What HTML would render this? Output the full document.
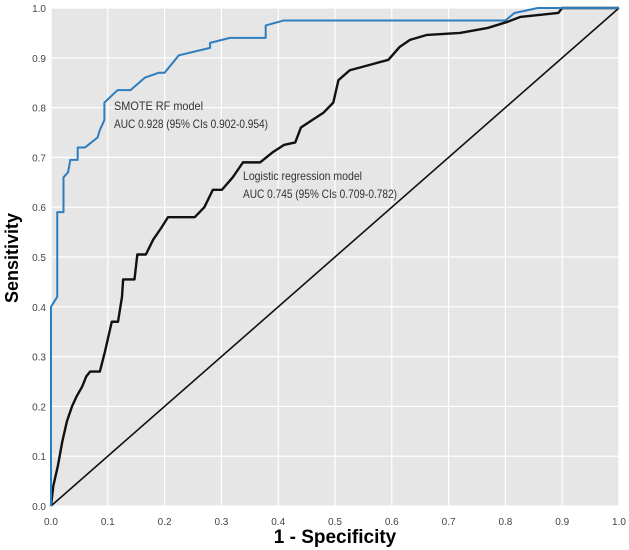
<!DOCTYPE html>
<html><head><meta charset="utf-8"><style>
body{margin:0;background:#fff;}
svg{display:block;font-family:"Liberation Sans",sans-serif;}
</style></head><body>
<svg id="chart" width="629" height="550" viewBox="0 0 629 550">
<rect x="51" y="8" width="568" height="498" fill="#e6e6e6"/>
<g id="grid"></g><g id="ticks"></g><g id="series"></g>
<text x="114" y="110" font-size="12" fill="#333" textLength="89" lengthAdjust="spacingAndGlyphs">SMOTE RF model</text>
<text x="114" y="128" font-size="12" fill="#333" textLength="154" lengthAdjust="spacingAndGlyphs">AUC 0.928 (95% CIs 0.902-0.954)</text>
<text x="243" y="180" font-size="12" fill="#333" textLength="119" lengthAdjust="spacingAndGlyphs">Logistic regression model</text>
<text x="243" y="198" font-size="12" fill="#333" textLength="154" lengthAdjust="spacingAndGlyphs">AUC 0.745 (95% CIs 0.709-0.782)</text>
<text x="335" y="543" font-size="19" font-weight="bold" text-anchor="middle" fill="#000">1 - Specificity</text>
<text transform="translate(18,258) rotate(-90)" font-size="18" font-weight="bold" text-anchor="middle" fill="#000">Sensitivity</text>
</svg>
<script>
const ticks=[0,0.1,0.2,0.3,0.4,0.5,0.6,0.7,0.8,0.9,1.0];
const tickLabels=["0.0","0.1","0.2","0.3","0.4","0.5","0.6","0.7","0.8","0.9","1.0"];
const rfFpr=[0,0,0.011,0.011,0.022,0.022,0.03,0.034,0.047,0.047,0.06,0.082,0.086,0.094,0.094,0.117,0.14,0.165,0.19,0.2,0.225,0.28,0.28,0.315,0.378,0.378,0.41,0.8,0.816,0.857,1];
const rfTpr=[0,0.40,0.42,0.59,0.59,0.66,0.67,0.695,0.695,0.72,0.72,0.74,0.755,0.775,0.81,0.835,0.835,0.86,0.87,0.87,0.905,0.92,0.93,0.94,0.94,0.965,0.975,0.975,0.99,1,1];
const lrFpr=[0,0.004,0.012,0.02,0.028,0.037,0.045,0.055,0.062,0.069,0.086,0.095,0.107,0.118,0.125,0.127,0.147,0.152,0.167,0.18,0.195,0.206,0.253,0.27,0.285,0.301,0.32,0.338,0.368,0.39,0.41,0.43,0.44,0.46,0.48,0.497,0.506,0.526,0.562,0.594,0.614,0.632,0.662,0.72,0.769,0.803,0.826,0.893,0.9,1];
const lrTpr=[0,0.04,0.08,0.13,0.17,0.2,0.22,0.24,0.26,0.27,0.27,0.31,0.37,0.37,0.42,0.455,0.455,0.505,0.505,0.535,0.56,0.58,0.58,0.6,0.635,0.635,0.66,0.69,0.69,0.71,0.725,0.73,0.76,0.775,0.79,0.81,0.855,0.875,0.886,0.896,0.922,0.936,0.946,0.95,0.96,0.972,0.982,0.99,1,1];
const X=v=>51+v*568, Y=v=>506-v*498;
const NS="http://www.w3.org/2000/svg";
const g=document.getElementById('grid'),t=document.getElementById('ticks'),s=document.getElementById('series');
ticks.forEach((v,i)=>{
 const gx=document.createElementNS(NS,'line');
 
 
 gx.setAttribute('x1',X(v));gx.setAttribute('x2',X(v));gx.setAttribute('y1',8);gx.setAttribute('y2',506);gx.setAttribute('stroke','#fff');gx.setAttribute('stroke-width','1.2');g.appendChild(gx);
 const gy=document.createElementNS(NS,'line');
 
 
 gy.setAttribute('x1',51);gy.setAttribute('x2',619);gy.setAttribute('y1',Y(v));gy.setAttribute('y2',Y(v));gy.setAttribute('stroke','#fff');gy.setAttribute('stroke-width','1.2');g.appendChild(gy);
 const tx=document.createElementNS(NS,'text');
 
 
 tx.setAttribute('x',X(v));tx.setAttribute('y',525);tx.setAttribute('font-size','10');tx.setAttribute('text-anchor','middle');tx.setAttribute('fill','#444');tx.textContent=tickLabels[i];t.appendChild(tx);
 const ty=document.createElementNS(NS,'text');
 
 
 ty.setAttribute('x',46);ty.setAttribute('y',Y(v)+4);ty.setAttribute('font-size','10');ty.setAttribute('text-anchor','end');ty.setAttribute('fill','#444');ty.textContent=tickLabels[i];t.appendChild(ty);
});
function line(xs,ys,color,w,name){
 const p=document.createElementNS(NS,'polyline');
 
 
 p.setAttribute('points',xs.map((x,i)=>X(x)+','+Y(ys[i])).join(' '));
 p.setAttribute('fill','none');p.setAttribute('stroke',color);p.setAttribute('stroke-width',w);p.setAttribute('stroke-linejoin','round');
 s.appendChild(p);
}
line([0,1],[0,1],'#111',1.6,'reference-diagonal');
line(lrFpr,lrTpr,'#111',2.4,'logistic-regression-curve');
line(rfFpr,rfTpr,'#2e7dbf',2,'smote-rf-curve');
</script>
</body></html>
